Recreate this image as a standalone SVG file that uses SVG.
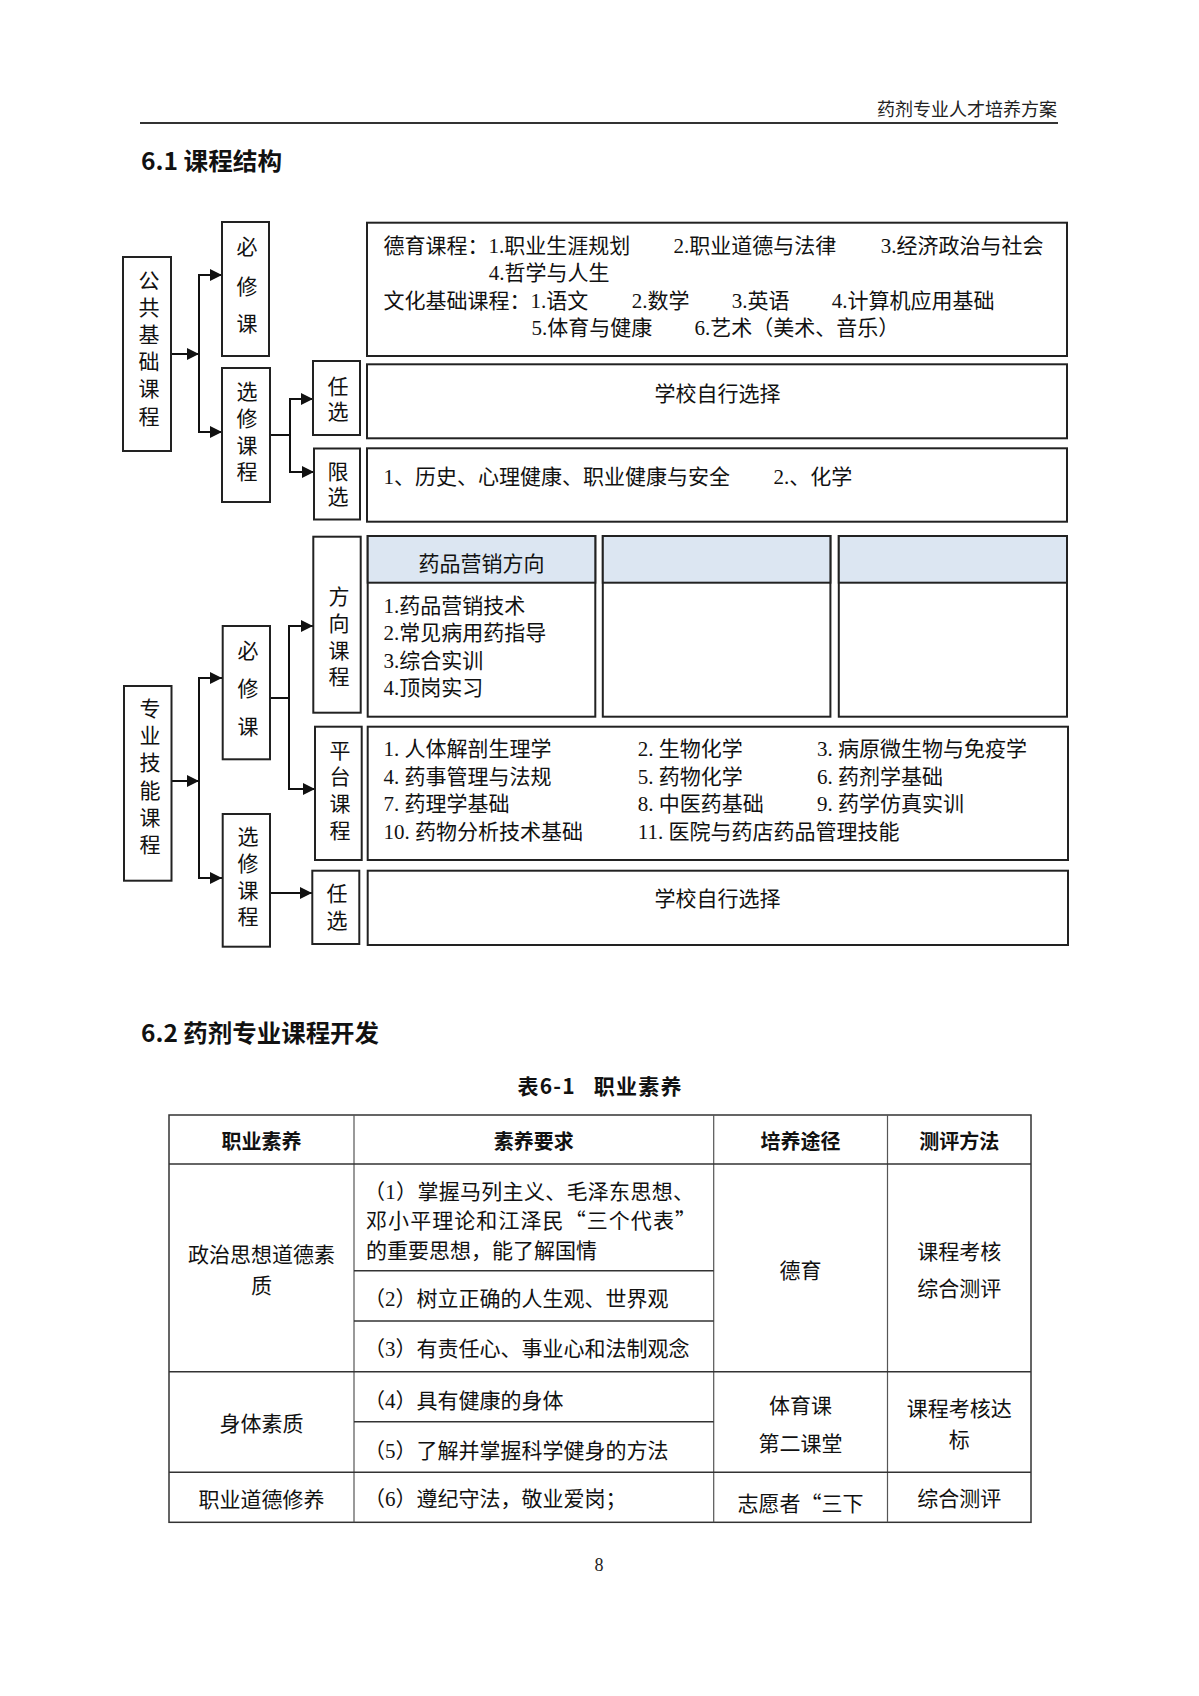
<svg xmlns="http://www.w3.org/2000/svg" width="1199" height="1696" viewBox="0 0 1199 1696">
<style>
  .t { font-family: "Liberation Serif", "Noto Sans CJK SC", serif; font-size: 21px; fill: #111; }
  .tc { text-anchor: middle; }
  .q { font-family: "Noto Sans CJK SC", sans-serif; }
  .hd { font-family: "Noto Sans CJK SC", sans-serif; font-weight: bold; fill: #111; }
  .box { fill: #fff; stroke: #222; stroke-width: 2; }
  .band { fill: #dce6f2; stroke: #222; stroke-width: 2; }
  .cn { fill: none; stroke: #111; stroke-width: 2; }
  .tb { fill: none; stroke: #333; stroke-width: 1.5; }
  .tbi { fill: none; stroke: #555; stroke-width: 1.2; }
</style>
<defs>
  <marker id="ah" markerUnits="userSpaceOnUse" markerWidth="12" markerHeight="12" refX="12" refY="6" orient="auto">
    <path d="M0,0 L12,6 L0,12 z" fill="#111"/>
  </marker>
</defs>
<rect width="1199" height="1696" fill="#fff"/>

<!-- page header -->
<text x="1057" y="116" font-family="Noto Sans CJK SC, sans-serif" font-size="18" fill="#222" text-anchor="end">药剂专业人才培养方案</text>
<line x1="140" y1="123" x2="1058" y2="123" stroke="#333" stroke-width="2"/>
<text class="hd" x="141" y="170" font-size="24" textLength="141" lengthAdjust="spacingAndGlyphs">6.1 课程结构</text>

<!-- connectors -->
<g id="connectors">
  <line class="cn" x1="171" y1="354" x2="199" y2="354" marker-end="url(#ah)"/>
  <line class="cn" x1="199" y1="275" x2="199" y2="432"/>
  <line class="cn" x1="198" y1="275" x2="222" y2="275" marker-end="url(#ah)"/>
  <line class="cn" x1="198" y1="432" x2="222" y2="432" marker-end="url(#ah)"/>
  <line class="cn" x1="270" y1="435" x2="290" y2="435"/>
  <line class="cn" x1="290" y1="399" x2="290" y2="472"/>
  <line class="cn" x1="289" y1="399" x2="313" y2="399" marker-end="url(#ah)"/>
  <line class="cn" x1="289" y1="472" x2="314" y2="472" marker-end="url(#ah)"/>

  <line class="cn" x1="171" y1="781" x2="199" y2="781" marker-end="url(#ah)"/>
  <line class="cn" x1="199" y1="678" x2="199" y2="878"/>
  <line class="cn" x1="198" y1="678" x2="222" y2="678" marker-end="url(#ah)"/>
  <line class="cn" x1="198" y1="878" x2="222" y2="878" marker-end="url(#ah)"/>
  <line class="cn" x1="270" y1="698" x2="289" y2="698"/>
  <line class="cn" x1="289" y1="626" x2="289" y2="789"/>
  <line class="cn" x1="288" y1="626" x2="313" y2="626" marker-end="url(#ah)"/>
  <line class="cn" x1="288" y1="789" x2="315" y2="789" marker-end="url(#ah)"/>
  <line class="cn" x1="270" y1="893" x2="312" y2="893" marker-end="url(#ah)"/>
</g>

<!-- public foundation -->
<g id="n-gonggong">
  <rect class="box" x="123" y="257" width="48" height="194"/>
  <text class="t tc"><tspan x="149" y="288">公</tspan><tspan x="149" y="315">共</tspan><tspan x="149" y="342">基</tspan><tspan x="149" y="369">础</tspan><tspan x="149" y="396">课</tspan><tspan x="149" y="424">程</tspan></text>
</g>
<g id="n-bixiu1">
  <rect class="box" x="222" y="222" width="47" height="134"/>
  <text class="t tc"><tspan x="247" y="254">必</tspan><tspan x="247" y="294">修</tspan><tspan x="247" y="331">课</tspan></text>
</g>
<g id="n-xuanxiu1">
  <rect class="box" x="222" y="368" width="48" height="134"/>
  <text class="t tc"><tspan x="247" y="399">选</tspan><tspan x="247" y="426">修</tspan><tspan x="247" y="453">课</tspan><tspan x="247" y="479">程</tspan></text>
</g>
<g id="n-renxuan1">
  <rect class="box" x="313" y="361" width="47" height="74"/>
  <text class="t tc"><tspan x="338" y="394">任</tspan><tspan x="338" y="419">选</tspan></text>
</g>
<g id="n-xianxuan">
  <rect class="box" x="314" y="448.5" width="46" height="71"/>
  <text class="t tc"><tspan x="338" y="479">限</tspan><tspan x="338" y="504">选</tspan></text>
</g>
<g id="n-gonggong-content">
  <rect class="box" x="367" y="222.7" width="700" height="133.3"/>
  <text class="t" x="383.5" y="252.5">德育课程：1.职业生涯规划</text>
  <text class="t" x="673.6" y="252.5">2.职业道德与法律</text>
  <text class="t" x="880.7" y="252.5">3.经济政治与社会</text>
  <text class="t" x="488.7" y="279.5">4.哲学与人生</text>
  <text class="t" x="383.5" y="307.5">文化基础课程：1.语文</text>
  <text class="t" x="631.7" y="307.5">2.数学</text>
  <text class="t" x="731.7" y="307.5">3.英语</text>
  <text class="t" x="831.8" y="307.5">4.计算机应用基础</text>
  <text class="t" x="531.6" y="335">5.体育与健康</text>
  <text class="t" x="694.5" y="335">6.艺术（美术、音乐）</text>
</g>
<g id="n-renxuan1-content">
  <rect class="box" x="367" y="364.3" width="700" height="74"/>
  <text class="t tc" x="717.6" y="400.5">学校自行选择</text>
</g>
<g id="n-xianxuan-content">
  <rect class="box" x="367" y="448.3" width="700" height="73.4"/>
  <text class="t" x="383.5" y="484">1、历史、心理健康、职业健康与安全</text>
  <text class="t" x="773.6" y="484">2.、化学</text>
</g>

<!-- professional skills -->
<g id="n-zhuanye">
  <rect class="box" x="124" y="686" width="47.5" height="194.7"/>
  <text class="t tc"><tspan x="150" y="716">专</tspan><tspan x="150" y="743">业</tspan><tspan x="150" y="770">技</tspan><tspan x="150" y="798">能</tspan><tspan x="150" y="825">课</tspan><tspan x="150" y="852">程</tspan></text>
</g>
<g id="n-bixiu2">
  <rect class="box" x="222.7" y="626" width="47.3" height="133.3"/>
  <text class="t tc"><tspan x="248" y="657.5">必</tspan><tspan x="248" y="696">修</tspan><tspan x="248" y="734">课</tspan></text>
</g>
<g id="n-xuanxiu2">
  <rect class="box" x="222.7" y="814" width="47.3" height="132.7"/>
  <text class="t tc"><tspan x="248" y="844">选</tspan><tspan x="248" y="871">修</tspan><tspan x="248" y="897.5">课</tspan><tspan x="248" y="924">程</tspan></text>
</g>
<g id="n-fangxiang">
  <rect class="box" x="313.3" y="536.7" width="47.4" height="176"/>
  <text class="t tc"><tspan x="339" y="604">方</tspan><tspan x="339" y="631">向</tspan><tspan x="339" y="657.5">课</tspan><tspan x="339" y="684">程</tspan></text>
</g>
<g id="n-pingtai">
  <rect class="box" x="315" y="726.7" width="46.7" height="133.3"/>
  <text class="t tc"><tspan x="340" y="757.5">平</tspan><tspan x="340" y="784">台</tspan><tspan x="340" y="811">课</tspan><tspan x="340" y="837.5">程</tspan></text>
</g>
<g id="n-renxuan2">
  <rect class="box" x="312.3" y="870.7" width="47" height="73.3"/>
  <text class="t tc"><tspan x="337" y="901">任</tspan><tspan x="337" y="927.5">选</tspan></text>
</g>
<g id="n-dir1">
  <rect class="box" x="367.7" y="536" width="227.6" height="180.7"/>
  <rect class="band" x="367.7" y="536" width="227.6" height="46.7"/>
  <text class="t tc" x="481.5" y="570.5">药品营销方向</text>
  <text class="t" x="383.5" y="612.5">1.药品营销技术</text>
  <text class="t" x="383.5" y="639.5">2.常见病用药指导</text>
  <text class="t" x="383.5" y="667.5">3.综合实训</text>
  <text class="t" x="383.5" y="694.5">4.顶岗实习</text>
</g>
<g id="n-dir2">
  <rect class="box" x="602.8" y="536" width="227.6" height="180.7"/>
  <rect class="band" x="602.8" y="536" width="227.6" height="46.7"/>
</g>
<g id="n-dir3">
  <rect class="box" x="838.8" y="536" width="228.2" height="180.7"/>
  <rect class="band" x="838.8" y="536" width="228.2" height="46.7"/>
</g>
<g id="n-pingtai-content">
  <rect class="box" x="367.7" y="726.7" width="700.3" height="133.3"/>
  <text class="t" x="383.5" y="755.5">1. 人体解剖生理学</text>
  <text class="t" x="637.7" y="755.5">2. 生物化学</text>
  <text class="t" x="817" y="755.5">3. 病原微生物与免疫学</text>
  <text class="t" x="383.5" y="783.5">4. 药事管理与法规</text>
  <text class="t" x="637.7" y="783.5">5. 药物化学</text>
  <text class="t" x="817" y="783.5">6. 药剂学基础</text>
  <text class="t" x="383.5" y="810.5">7. 药理学基础</text>
  <text class="t" x="637.7" y="810.5">8. 中医药基础</text>
  <text class="t" x="817" y="810.5">9. 药学仿真实训</text>
  <text class="t" x="383.5" y="838.5">10. 药物分析技术基础</text>
  <text class="t" x="637.7" y="838.5">11. 医院与药店药品管理技能</text>
</g>
<g id="n-renxuan2-content">
  <rect class="box" x="367.7" y="870.7" width="700.3" height="74.3"/>
  <text class="t tc" x="717.6" y="905.5">学校自行选择</text>
</g>

<!-- section 6.2 -->
<text class="hd" x="141" y="1041.5" font-size="24" textLength="238" lengthAdjust="spacingAndGlyphs">6.2 药剂专业课程开发</text>
<text class="hd" x="517.5" y="1094" font-size="21" textLength="164" xml:space="preserve">表6-1   职业素养</text>

<g id="table">
  <rect class="tb" x="169" y="1115" width="862" height="407.3"/>
  <line class="tbi" x1="354" y1="1115" x2="354" y2="1522.3"/>
  <line class="tbi" x1="713.7" y1="1115" x2="713.7" y2="1522.3"/>
  <line class="tbi" x1="887.5" y1="1115" x2="887.5" y2="1522.3"/>
  <line class="tb" x1="169" y1="1164" x2="1031" y2="1164"/>
  <line class="tb" x1="169" y1="1371.7" x2="1031" y2="1371.7"/>
  <line class="tb" x1="169" y1="1472.3" x2="1031" y2="1472.3"/>
  <line class="tb" x1="354" y1="1270.7" x2="713.7" y2="1270.7"/>
  <line class="tb" x1="354" y1="1321" x2="713.7" y2="1321"/>
  <line class="tb" x1="354" y1="1421.7" x2="713.7" y2="1421.7"/>

  <text class="hd tc" x="261.5" y="1148.5" font-size="20">职业素养</text>
  <text class="hd tc" x="533.8" y="1148.5" font-size="20">素养要求</text>
  <text class="hd tc" x="800.6" y="1148.5" font-size="20">培养途径</text>
  <text class="hd tc" x="959.2" y="1148.5" font-size="20">测评方法</text>

  <text class="t tc" x="261.5" y="1261.5">政治思想道德素</text>
  <text class="t tc" x="261.5" y="1293">质</text>
  <text class="t" x="364" y="1198.5" textLength="330">（1）掌握马列主义、毛泽东思想、</text>
  <text class="t" x="366" y="1227.5" textLength="330">邓小平理论和江泽民<tspan class="q">“</tspan>三个代表<tspan class="q">”</tspan></text>
  <text class="t" x="366" y="1257.5">的重要思想，能了解国情</text>
  <text class="t" x="364" y="1306">（2）树立正确的人生观、世界观</text>
  <text class="t" x="364" y="1356">（3）有责任心、事业心和法制观念</text>
  <text class="t tc" x="800.6" y="1277.5">德育</text>
  <text class="t tc" x="959.2" y="1259">课程考核</text>
  <text class="t tc" x="959.2" y="1296">综合测评</text>

  <text class="t tc" x="261.5" y="1430.5">身体素质</text>
  <text class="t" x="364" y="1407.5">（4）具有健康的身体</text>
  <text class="t" x="364" y="1457.5">（5）了解并掌握科学健身的方法</text>
  <text class="t tc" x="800.6" y="1412.5">体育课</text>
  <text class="t tc" x="800.6" y="1450.5">第二课堂</text>
  <text class="t tc" x="959.2" y="1415.5">课程考核达</text>
  <text class="t tc" x="959.2" y="1446.5">标</text>

  <text class="t tc" x="261.5" y="1506.5">职业道德修养</text>
  <text class="t" x="364" y="1505.5">（6）遵纪守法，敬业爱岗；</text>
  <text class="t tc" x="800.6" y="1510.5">志愿者<tspan class="q">“</tspan>三下</text>
  <text class="t tc" x="959.2" y="1505.5">综合测评</text>
</g>

<text x="599" y="1571" font-family="Liberation Serif, serif" font-size="18" fill="#222" text-anchor="middle">8</text>
</svg>
